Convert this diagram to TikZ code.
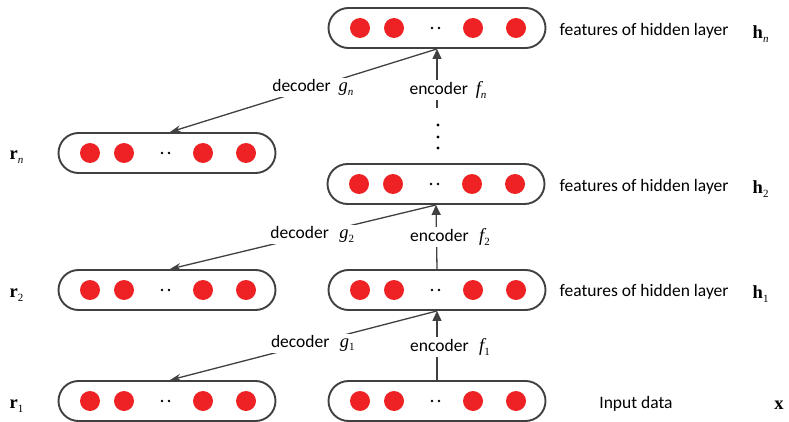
\documentclass[tikz,border=0pt]{standalone}
\usepackage{fontspec}
\setmainfont{Carlito}
\newfontfamily\tnr{Liberation Serif}
\usetikzlibrary{arrows.meta}
\definecolor{lc}{HTML}{404040}
\definecolor{dotred}{HTML}{EE2224}
\newcommand\subtxt[1]{\raisebox{-0.45ex}{\tnr\fontsize{11}{12}\selectfont #1}}
\newcommand\ivar[2]{{\tnr\itshape\fontsize{18.5}{20}\selectfont #1}\subtxt{#2}}
\newcommand\bvar[2]{{\tnr\bfseries\fontsize{18.5}{20}\selectfont #1}\subtxt{#2}}
\newcommand\layerbox[3]{%
  \node[pill] (#1) at (#2+109,#3) {};
  \foreach \dx in {32,66,145,188} {\fill[dotred] (#2+\dx,#3) circle (10pt);}
  \fill (#2+104,#3) circle (1.4pt);
  \fill (#2+111,#3) circle (1.4pt);
}
\tikzset{
  pill/.style={draw=lc, line width=1.9pt, minimum width=217pt, minimum height=40pt, rounded corners=20pt, inner sep=0pt},
  enc/.style={draw=lc, line width=1.3pt, -{Triangle[length=10pt,width=9pt]}},
  dec/.style={draw=lc, line width=1.3pt, -{Stealth[length=11pt,width=7pt]}},
  lbl/.style={font=\fontsize{17.5}{20}\selectfont, inner sep=1.5pt},
  wlbl/.style={lbl, fill=white},
}
\begin{document}
\begin{tikzpicture}[x=1pt,y=-1pt]
\useasboundingbox (0,0) rectangle (789,422);
% boxes
\layerbox{hn}{328}{28}
\layerbox{rn}{58}{153}
\layerbox{h2}{327}{184}
\layerbox{r2}{58}{290}
\layerbox{h1}{328}{290}
\layerbox{r1}{58}{401}
\layerbox{x}{328}{401}
% vertical dots
\coordinate (top) at (437,108);
\foreach \yy in {125,137,148} {\fill (438,\yy) circle (1.6pt);}
% encoders
\draw[enc] (x.north) -- (h1.south);
\node[wlbl] (e1) at (450,347) {encoder\hspace{0.6em}\ivar{f}{1}};
\draw[enc] (h1.north) -- (h2.south);
\node[wlbl] (e2) at (450,237) {encoder\hspace{0.6em}\ivar{f}{2}};
\draw[enc] (top) -- (hn.south);
\node[wlbl] (en) at (448,90) {encoder\hspace{0.45em}\ivar{f}{\itshape n}};
% decoders
\draw[dec] (h1.south) -- ([xshift=3pt]r1.north) node[wlbl, pos=0.465] (d1) {decoder\hspace{0.6em}\ivar{g}{1}};
\draw[dec] (h2.south) -- ([xshift=3pt]r2.north) node[wlbl, pos=0.465] (d2) {decoder\hspace{0.6em}\ivar{g}{2}};
\draw[dec] (hn.south) -- ([xshift=3pt]rn.north) node[wlbl, pos=0.465] (dn) {decoder\hspace{0.45em}\ivar{g}{\itshape n}};
% right labels
\node[lbl, anchor=west] (t3) at (558,31) {features of hidden layer};
\node[lbl, anchor=west] (t2) at (558,187) {features of hidden layer};
\node[lbl, anchor=west] (t1) at (558,292) {features of hidden layer};
\node[lbl] (t0) at (636,404) {Input data};
\node[lbl, anchor=west] (vhn) at (751,34) {\bvar{h}{\itshape n}};
\node[lbl, anchor=west] (vh2) at (751,189) {\bvar{h}{2}};
\node[lbl, anchor=west] (vh1) at (751,294) {\bvar{h}{1}};
\node[lbl] (vx) at (779,405) {{\tnr\bfseries\fontsize{18.5}{20}\selectfont x}};
% left labels
\node[lbl, anchor=west] (vrn) at (8,157) {\bvar{r}{\itshape n}};
\node[lbl, anchor=west] (vr2) at (8,295) {\bvar{r}{2}};
\node[lbl, anchor=west] (vr1) at (8,406) {\bvar{r}{1}};
\end{tikzpicture}
\end{document}
